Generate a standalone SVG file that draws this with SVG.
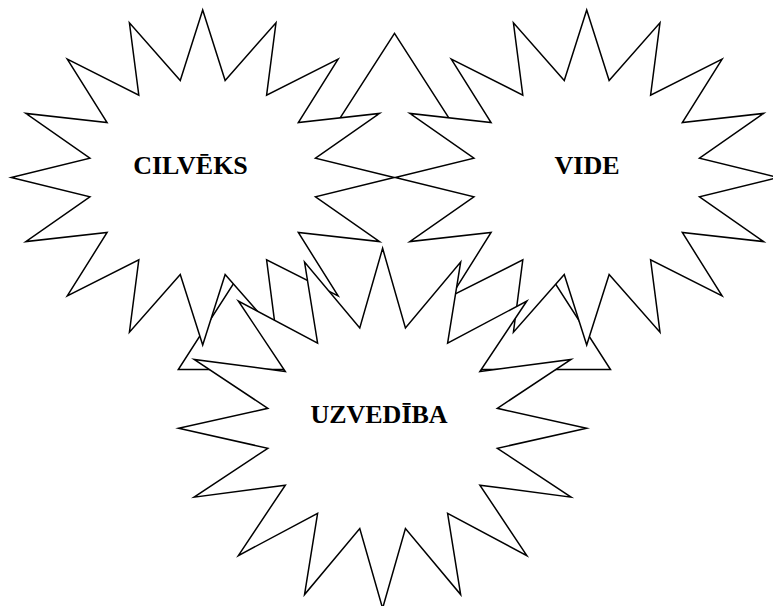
<svg xmlns="http://www.w3.org/2000/svg" xmlns:xlink="http://www.w3.org/1999/xlink" width="773" height="606" viewBox="0 0 773 606">
<style>
.shape{fill:#ffffff;stroke:#000000;stroke-width:1.5;stroke-linejoin:miter;stroke-miterlimit:10}
.lbl{font-family:"Liberation Serif","Times New Roman",serif;font-weight:bold;font-size:26px;fill:#000000;text-anchor:middle}
</style>
<defs>
<path id="starA" d="M0,-167.5 L22.44,-97.1 L73.28,-154.75 L63.89,-82.32 L135.41,-118.44 L95.62,-55 L176.92,-64.1 L112.79,-19.31 L191.5,0 L112.79,19.31 L176.92,64.1 L95.62,55 L135.41,118.44 L63.89,82.32 L73.28,154.75 L22.44,97.1 L0,167.5 L-22.44,97.1 L-73.28,154.75 L-63.89,82.32 L-135.41,118.44 L-95.62,55 L-176.92,64.1 L-112.79,19.31 L-191.5,0 L-112.79,-19.31 L-176.92,-64.1 L-95.62,-55 L-135.41,-118.44 L-63.89,-82.32 L-73.28,-154.75 L-22.44,-97.1 Z"/>
<path id="starB" d="M0,-180 L22.83,-100.33 L78.07,-166.3 L65,-85.06 L144.25,-127.28 L97.28,-56.84 L188.47,-68.88 L114.75,-19.96 L204,0 L114.75,19.96 L188.47,68.88 L97.28,56.84 L144.25,127.28 L65,85.06 L78.07,166.3 L22.83,100.33 L0,180 L-22.83,100.33 L-78.07,166.3 L-65,85.06 L-144.25,127.28 L-97.28,56.84 L-188.47,68.88 L-114.75,19.96 L-204,0 L-114.75,-19.96 L-188.47,-68.88 L-97.28,-56.84 L-144.25,-127.28 L-65,-85.06 L-78.07,-166.3 L-22.83,-100.33 Z"/>
</defs>
<g id="triangle">
<path class="shape" d="M394.5,33.3 L610.5,369.5 L178.3,369.5 Z"/>
</g>
<g id="cilveks">
<use xlink:href="#starA" href="#starA" class="shape" transform="translate(202.7,177.5)"/>
<text class="lbl" x="190.5" y="174">CILVĒKS</text>
</g>
<g id="vide">
<use xlink:href="#starA" href="#starA" class="shape" transform="translate(586.7,177.5)"/>
<text class="lbl" x="587" y="174">VIDE</text>
</g>
<g id="uzvediba">
<use xlink:href="#starB" href="#starB" class="shape" transform="translate(382.6,428.3)"/>
<text class="lbl" x="379" y="423">UZVEDĪBA</text>
</g>
<g id="connectors"></g>
</svg>
